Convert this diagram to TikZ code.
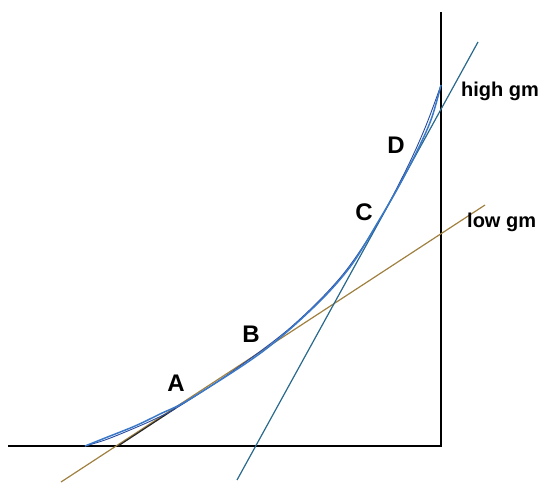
\documentclass[tikz,border=0pt]{standalone}
\usepackage{fontspec}
\setmainfont{Liberation Sans}
\definecolor{curveblue}{RGB}{58,120,200}
\definecolor{curvedark}{RGB}{40,75,160}
\definecolor{highline}{RGB}{40,105,140}
\definecolor{lowline}{RGB}{160,128,64}
\tikzset{
  axis/.style={line width=2.4pt, black},
  curvemain/.style={line width=1.5pt, curveblue},
  curvesec/.style={line width=0.9pt, curvedark},
  highgm/.style={line width=1.2pt, highline},
  lowgm/.style={line width=1.2pt, lowline},
  ptlabel/.style={font=\fontsize{24}{26}\selectfont\bfseries, inner sep=0pt},
  gmlabel/.style={font=\fontsize{20}{22}\selectfont\bfseries, inner sep=0pt, anchor=west},
}
\begin{document}
\begin{tikzpicture}[x=1pt,y=-1pt]
\useasboundingbox (0,0) rectangle (556,485);
% axes
\coordinate (o) at (441,446);
\coordinate (xl) at (8,446);
\coordinate (yt) at (441,12);
\draw[axis] (xl) -- (o) -- (yt);
% tangent lines
\coordinate (l1) at (61,482);
\coordinate (l2) at (485,205);
\draw[lowgm] (l1) -- (l2);
\coordinate (h1) at (237,480);
\coordinate (h2) at (478,42);
\draw[highgm] (h1) -- (h2);
% black part of low line near A
\coordinate (k1) at (118,446);
\coordinate (k2) at (176,408);
\draw[line width=1.2pt, black!85] (k1) -- (k2);
% curves
\draw[curvesec] plot[smooth, tension=0.55] coordinates {(85,446) (105,440) (130,430) (155,419) (178,407) (230,373) (290,328) (340,278) (376,226) (405,172) (425,128) (441,85)};
\draw[curvemain] plot[smooth, tension=0.55] coordinates {(85,446) (105,438) (135,426) (160,414) (190,399) (262,352) (315,306) (350,267) (378,222) (400,184) (420,145) (432,117) (441,85)};
% labels
\node[ptlabel] (A) at (176,383) {A};
\node[ptlabel] (B) at (251,334) {B};
\node[ptlabel] (C) at (364,212) {C};
\node[ptlabel] (D) at (396,145) {D};
\node[gmlabel] (hg) at (461,91) {high gm};
\node[gmlabel] (lg) at (467,222) {low gm};
\end{tikzpicture}
\end{document}
